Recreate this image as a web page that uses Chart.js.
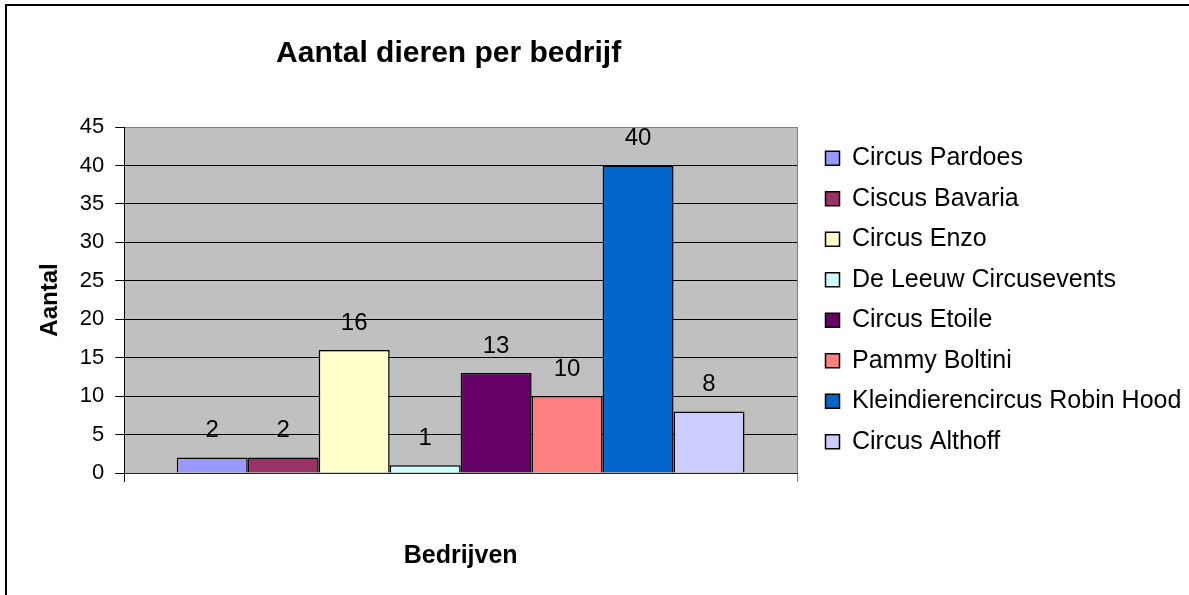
<!DOCTYPE html>
<html>
<head>
<meta charset="utf-8">
<script src="https://cdn.jsdelivr.net/npm/chart.js@4.4.0/dist/chart.umd.min.js"></script>
<style>
  html, body { margin: 0; padding: 0; background: #ffffff; }
  #wrap { width: 1189px; height: 595px; }
</style>
</head>
<body>
<div id="wrap"><canvas id="c" width="1189" height="595"></canvas></div>
<script>
// ---- Data ----
const categories = [''];
const seriesNames = [
  'Circus Pardoes',
  'Ciscus Bavaria',
  'Circus Enzo',
  'De Leeuw Circusevents',
  'Circus Etoile',
  'Pammy Boltini',
  'Kleindierencircus Robin Hood',
  'Circus Althoff'
];
const seriesValues = [2, 2, 16, 1, 13, 10, 40, 8];
const seriesColors = ['#9999FF', '#993366', '#FFFFCC', '#CCFFFF', '#660066', '#FF8080', '#0066CC', '#CCCCFF'];
const yMin = 0, yMax = 45, yStep = 5;
const chartTitle = 'Aantal dieren per bedrijf';
const xTitle = 'Bedrijven';
const yTitle = 'Aantal';

// ---- Style / layout ----
const FAMILY = '"Liberation Sans", Arial, Helvetica, sans-serif';
Chart.defaults.font.family = FAMILY;
Chart.defaults.color = '#000000';

const LEG_FONT = 25, LEG_PAD = 15.5, LEG_BOX = 14;
const PAD_LEFT = 32;
const PLOT_RIGHT = 797, LEG_BOX_X = 825.5, TITLE_SHIFT = -12;
// vertical boxes (y axis + legend) are capped at availableWidth/4 each,
// so choose the right padding that puts the plot's right edge at PLOT_RIGHT
const padRight = (4 * (1189 - PLOT_RIGHT) - (1189 - PAD_LEFT)) / 3;

const datasets = seriesNames.map((name, i) => ({
  label: name,
  data: [seriesValues[i]],
  backgroundColor: seriesColors[i],
  borderColor: '#000000',
  borderWidth: 1.5,
  categoryPercentage: 0.844,
  barPercentage: 1.0
}));

const decorPlugin = {
  id: 'decor',
  beforeDraw(chart) {
    const ctx = chart.ctx, a = chart.chartArea;
    ctx.save();
    ctx.fillStyle = '#ffffff';
    ctx.fillRect(0, 0, chart.width, chart.height);
    ctx.strokeStyle = '#000000';
    ctx.lineWidth = 2;
    ctx.strokeRect(6, 5, chart.width + 20, chart.height + 20);
    ctx.fillStyle = '#C0C0C0';
    ctx.fillRect(a.left, a.top, a.right - a.left, a.bottom - a.top);
    ctx.restore();
  },
  beforeDatasetsDraw(chart) {
    const ctx = chart.ctx, a = chart.chartArea;
    ctx.save();
    ctx.strokeStyle = '#808080';
    ctx.lineWidth = 1;
    ctx.beginPath();
    ctx.moveTo(Math.round(a.right) + 0.5, a.top);
    ctx.lineTo(Math.round(a.right) + 0.5, a.bottom);
    ctx.stroke();
    ctx.restore();
  },
  afterLayout(chart) {
    const lg = chart.legend;
    if (lg) {
      lg.left = LEG_BOX_X - LEG_PAD;
      lg.right = chart.width;
      lg.width = lg.right - lg.left;
    }
    const tb = chart.titleBlock;
    if (tb) { tb.left += TITLE_SHIFT; tb.right += TITLE_SHIFT; }
  },
  afterDatasetsDraw(chart) {
    const ctx = chart.ctx;
    ctx.save();
    ctx.font = '24px ' + FAMILY;
    ctx.fillStyle = '#000000';
    ctx.textAlign = 'center';
    ctx.textBaseline = 'middle';
    chart.data.datasets.forEach((ds, i) => {
      const meta = chart.getDatasetMeta(i);
      meta.data.forEach((el, j) => {
        ctx.fillText(String(ds.data[j]), el.x, el.y - 27);
      });
    });
    ctx.restore();
  }
};

new Chart(document.getElementById('c'), {
  type: 'bar',
  data: { labels: categories, datasets: datasets },
  options: {
    responsive: false,
    animation: false,
    devicePixelRatio: 1,
    layout: { padding: { left: PAD_LEFT, top: 10, right: padRight, bottom: 20 } },
    plugins: {
      tooltip: { enabled: false },
      title: {
        display: true,
        text: chartTitle,
        fullSize: false,
        color: '#000000',
        font: { size: 30, weight: 'bold' },
        padding: { top: 26, bottom: 55 }
      },
      legend: {
        display: true,
        position: 'right',
        align: 'center',
        fullSize: false,
        labels: {
          color: '#000000',
          font: { size: LEG_FONT },
          boxWidth: LEG_BOX,
          boxHeight: LEG_BOX,
          padding: LEG_PAD
        }
      }
    },
    scales: {
      x: {
        offset: true,
        ticks: { display: false },
        border: { display: true, color: '#222222', width: 1 },
        grid: {
          display: true,
          offset: true,
          drawOnChartArea: false,
          drawTicks: true,
          tickLength: 9,
          color: (c) => (c.index === 0 ? '#000000' : '#808080')
        },
        title: {
          display: true,
          text: xTitle,
          color: '#000000',
          font: { size: 25, weight: 'bold' },
          padding: { top: 59, bottom: 4 }
        }
      },
      y: {
        min: yMin,
        max: yMax,
        ticks: { stepSize: yStep, color: '#000000', font: { size: 22 }, padding: 11 },
        border: { display: true, color: '#000000', width: 1 },
        grid: {
          color: (c) => (c.tick && c.tick.value === yMax ? '#808080' : '#000000'),
          tickColor: '#000000',
          tickLength: 9,
          lineWidth: 1
        },
        title: {
          display: true,
          text: yTitle,
          color: '#000000',
          font: { size: 24, weight: 'bold' },
          padding: { top: 4, bottom: 4 }
        }
      }
    }
  },
  plugins: [decorPlugin]
});
</script>
</body>
</html>
